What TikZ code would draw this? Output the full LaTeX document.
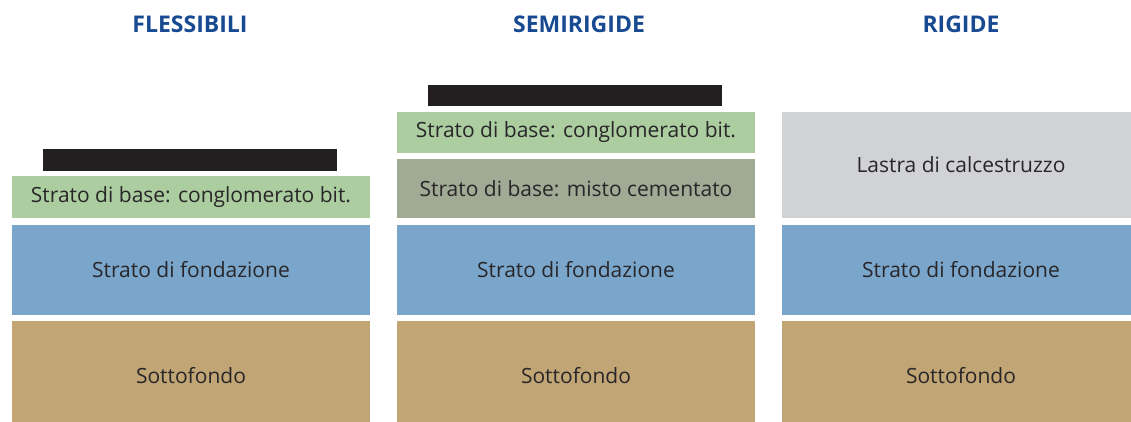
\documentclass[tikz,border=0pt]{standalone}
\usepackage{fontspec}
\setmainfont{Open Sans}

\definecolor{titblu}{RGB}{24,74,146}
\definecolor{verdebit}{RGB}{171,205,160}
\definecolor{verdecem}{RGB}{161,170,148}
\definecolor{blufond}{RGB}{123,166,203}
\definecolor{sabbia}{RGB}{193,165,117}
\definecolor{grigiocls}{RGB}{209,210,212}
\definecolor{nerousura}{RGB}{35,31,32}
\definecolor{testo}{RGB}{40,38,40}

\tikzset{
  titolo/.style={font=\fontsize{23}{27}\selectfont\bfseries,text=titblu,inner sep=0pt},
  strato/.style={rectangle,inner sep=0pt,minimum width=358pt,text=testo,font=\fontsize{21}{25}\selectfont},
  usura/.style={rectangle,inner sep=0pt,fill=nerousura,minimum width=294pt}
}

\begin{document}
\begin{tikzpicture}[x=1pt,y=-1pt]
\useasboundingbox (0,0) rectangle (1131,421);

% titoli
\node[titolo] (tflex) at (190,24) {FLESSIBILI};
\node[titolo] (tsemi) at (579,24) {SEMIRIGIDE};
\node[titolo] (trig) at (961,24) {RIGIDE};

% strati comuni
\foreach \c/\x in {1/191,2/576,3/961}
{
\node[strato,fill=blufond,minimum height=90pt] (fond\c) at (\x,270) {Strato di fondazione};
\node[strato,fill=sabbia,minimum height=110pt] (sotto\c) at (\x,376) {Sottofondo};
}

% flessibili
\node[strato,fill=verdebit,minimum height=42pt] (base1) at (191,197) {Strato di base: conglomerato bit.};
\node[usura,minimum height=22pt] (usura1) at (190,160) {};

% semirigide
\node[strato,fill=verdecem,minimum height=59pt] (cem2) at (576,188.5) {Strato di base: misto cementato};
\node[strato,fill=verdebit,minimum height=41pt] (base2) at (576,132.5) {Strato di base: conglomerato bit.};
\node[usura,minimum height=21pt] (usura2) at (575,95.5) {};

% rigide
\node[strato,fill=grigiocls,minimum height=106pt] (lastra3) at (961,165) {Lastra di calcestruzzo};

\end{tikzpicture}
\end{document}
